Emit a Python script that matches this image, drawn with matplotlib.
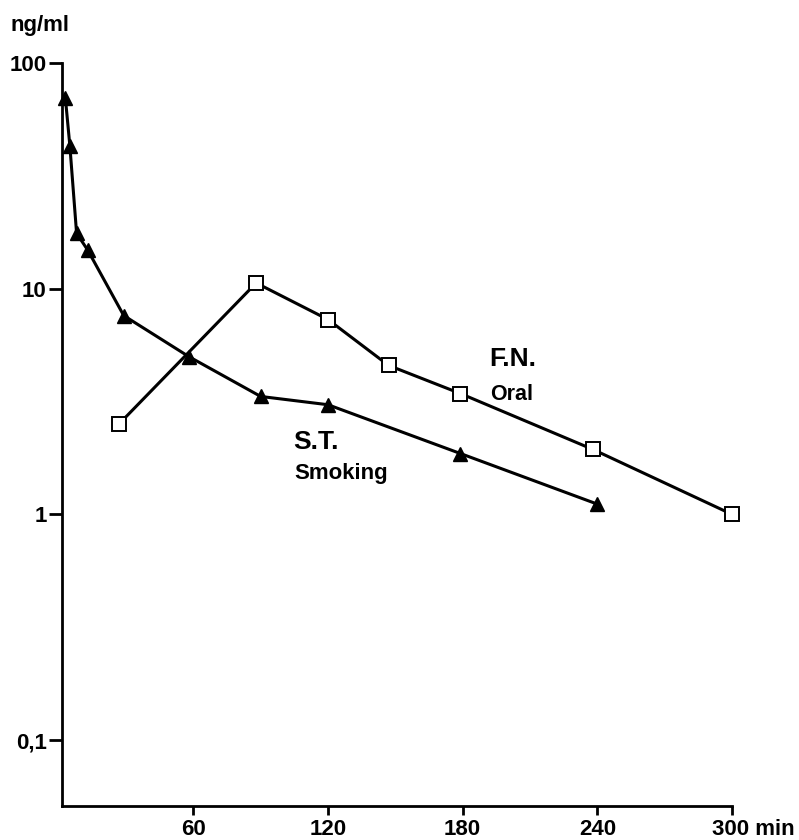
import matplotlib
matplotlib.use("Agg")
import matplotlib.pyplot as plt
from matplotlib.transforms import ScaledTranslation

plt.rcParams['font.family'] = ['Liberation Sans', 'DejaVu Sans']
plt.rcParams['font.weight'] = 'bold'

# S.T. - smoking (triangles)
smoking_min = [3, 5, 8, 13, 29, 58, 90, 120, 179, 240]
smoking_ng = [70, 43, 17.6, 14.8, 7.6, 5.0, 3.33, 3.06, 1.86, 1.11]

# F.N. - oral (squares)
oral_min = [27, 88, 120, 147, 179, 238, 300]
oral_ng = [2.52, 10.6, 7.3, 4.57, 3.43, 1.94, 1.0]

x_ticks = [60, 120, 180, 240, 300]
x_labels = ["60", "120", "180", "240", "300 min"]
y_ticks = [0.1, 1, 10, 100]
y_labels = ["0,1", "1", "10", "100"]

W, H = 799, 840
fig = plt.figure(figsize=(W / 100, H / 100), dpi=100)
ax = fig.add_axes([62 / W, 1 - 806 / H, (732 - 62) / W, (806 - 63) / H])

ax.plot(smoking_min, smoking_ng, color="black", lw=2.2, marker="^",
        ms=10.5, mfc="black", mec="black", zorder=3, clip_on=False)
ax.plot(oral_min, oral_ng, color="black", lw=2.2, marker="s",
        ms=9.5, mfc="white", mec="black", mew=1.4, zorder=4, clip_on=False)

ax.set_yscale("log")
ax.set_xlim(1.5, 300)
ax.set_ylim(0.051, 100)

ax.set_xticks(x_ticks)
ax.set_xticklabels(x_labels)
ax.set_yticks(y_ticks)
ax.set_yticklabels(y_labels)
ax.minorticks_off()

for s in ["top", "right"]:
    ax.spines[s].set_visible(False)
for s in ["left", "bottom"]:
    ax.spines[s].set_linewidth(2)

ax.tick_params(axis="y", direction="out", length=9.5, width=2, pad=1.5,
               labelsize=16)
ax.tick_params(axis="x", direction="out", length=6.5, width=2, pad=3,
               labelsize=16)
for lbl in ax.get_yticklabels() + ax.get_xticklabels():
    lbl.set_fontweight("bold")

# "300 min" starts a little left of its tick
last = ax.get_xticklabels()[-1]
last.set_horizontalalignment("left")
last.set_transform(last.get_transform() + ScaledTranslation(-0.2, 0, fig.dpi_scale_trans))

fig.text(10 / W, 1 - 26 / H, "ng/ml", fontsize=16, fontweight="bold", va="center")
fig.text(489 / W, 1 - 366 / H, "F.N.", fontsize=19, fontweight="bold", va="baseline")
fig.text(490 / W, 1 - 400 / H, "Oral", fontsize=15.5, fontweight="bold", va="baseline")
fig.text(293 / W, 1 - 449 / H, "S.T.", fontsize=19, fontweight="bold", va="baseline")
fig.text(294 / W, 1 - 479 / H, "Smoking", fontsize=16, fontweight="bold", va="baseline")

fig.savefig("out.png", dpi=100)
